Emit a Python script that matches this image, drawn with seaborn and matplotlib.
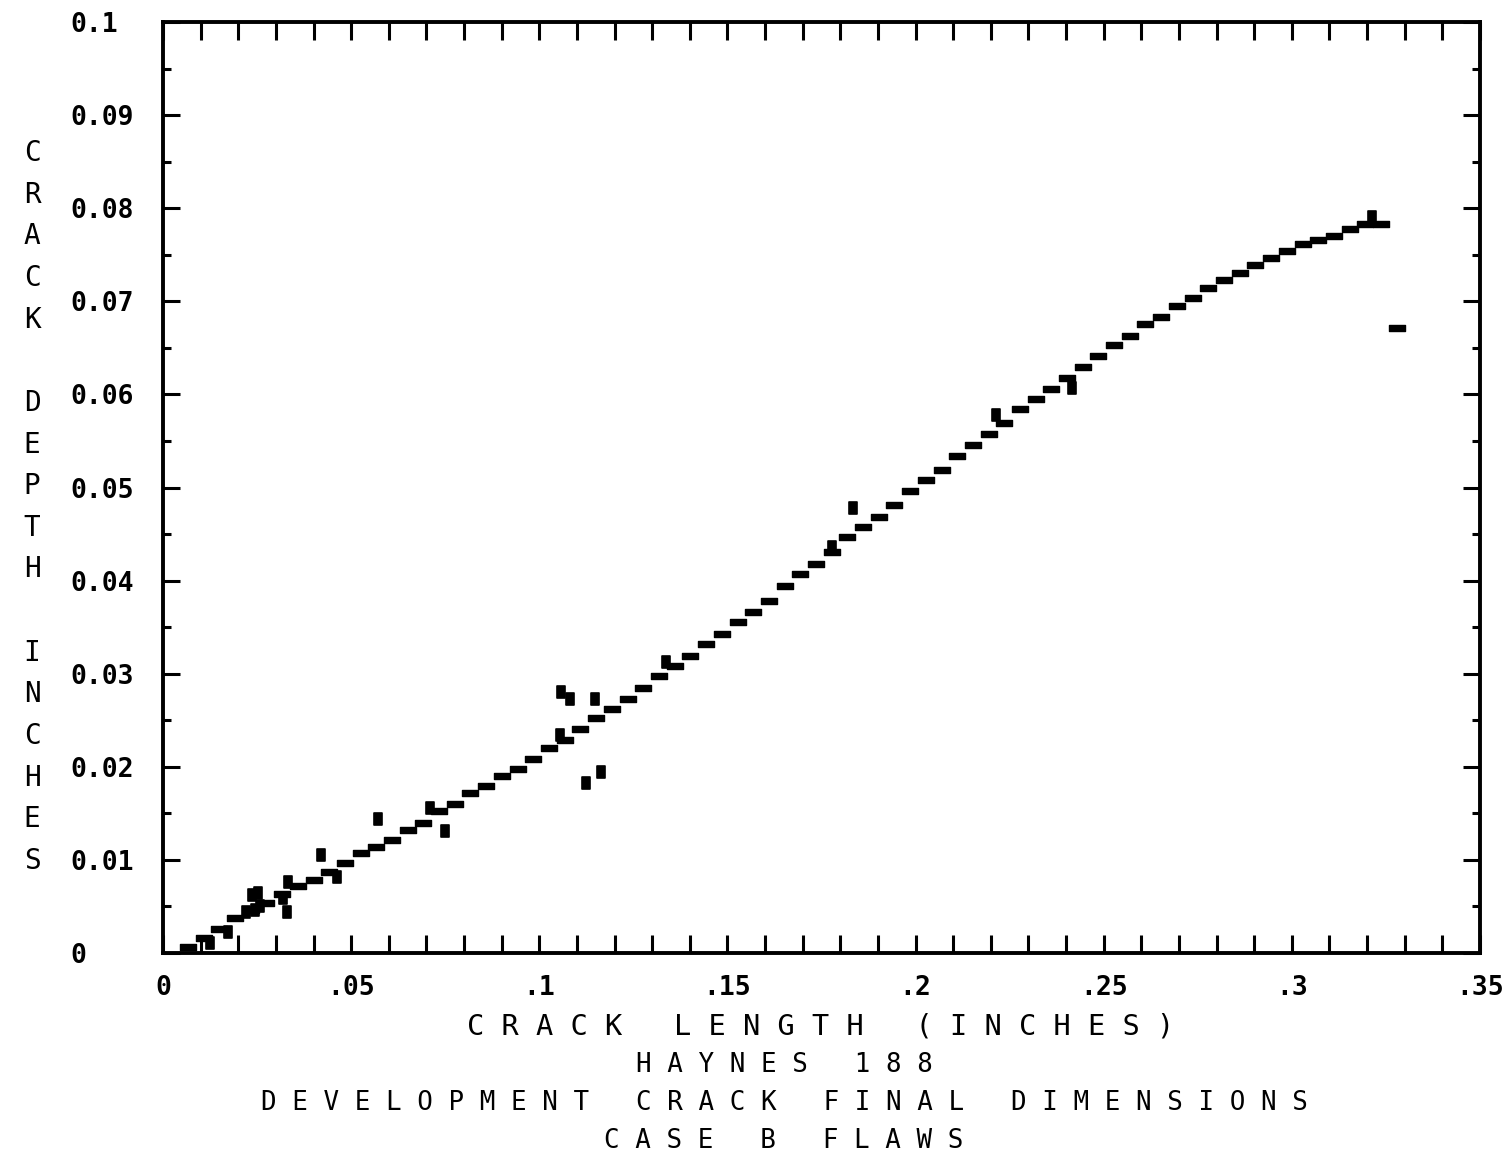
import numpy as np
import pandas as pd
import matplotlib
matplotlib.use("Agg")
import matplotlib.pyplot as plt
from matplotlib.path import Path
import seaborn as sns

# Fitted depth-vs-length curve, sampled points
fit_length = [0.0066, 0.0108, 0.0150, 0.0192, 0.0233, 0.0275, 0.0317, 0.0358, 0.0400, 0.0442,
              0.0484, 0.0525, 0.0567, 0.0609, 0.0651, 0.0692, 0.0734, 0.0776, 0.0817, 0.0859,
              0.0901, 0.0943, 0.0984, 0.1026, 0.1068, 0.1109, 0.1151, 0.1193, 0.1235, 0.1276,
              0.1318, 0.1360, 0.1401, 0.1443, 0.1485, 0.1527, 0.1568, 0.1610, 0.1652, 0.1694,
              0.1735, 0.1777, 0.1819, 0.1860, 0.1902, 0.1944, 0.1986, 0.2027, 0.2069, 0.2111,
              0.2152, 0.2194, 0.2236, 0.2278, 0.2319, 0.2361, 0.2403, 0.2444, 0.2486, 0.2528,
              0.2570, 0.2611, 0.2653, 0.2695, 0.2736, 0.2778, 0.2820, 0.2862, 0.2903, 0.2945,
              0.2987, 0.3029, 0.3070, 0.3112, 0.3154, 0.3195, 0.3237]
fit_depth = [0.0006, 0.0016, 0.0026, 0.0038, 0.0046, 0.0054, 0.0063, 0.0072, 0.0078, 0.0087,
             0.0097, 0.0107, 0.0114, 0.0121, 0.0132, 0.0140, 0.0153, 0.0160, 0.0172, 0.0179,
             0.0190, 0.0198, 0.0208, 0.0220, 0.0229, 0.0241, 0.0252, 0.0262, 0.0273, 0.0285,
             0.0297, 0.0308, 0.0319, 0.0332, 0.0343, 0.0355, 0.0366, 0.0378, 0.0394, 0.0407,
             0.0418, 0.0431, 0.0447, 0.0458, 0.0468, 0.0481, 0.0496, 0.0508, 0.0519, 0.0534,
             0.0546, 0.0558, 0.0569, 0.0584, 0.0595, 0.0606, 0.0618, 0.0629, 0.0641, 0.0653,
             0.0663, 0.0676, 0.0683, 0.0695, 0.0704, 0.0714, 0.0723, 0.0730, 0.0739, 0.0747,
             0.0754, 0.0762, 0.0766, 0.0770, 0.0778, 0.0783, 0.0783]

# Measured flaws
flaw_length = [0.0125, 0.0173, 0.0221, 0.0237, 0.0244, 0.0252, 0.0258, 0.0319, 0.0330, 0.0332,
               0.0420, 0.0462, 0.0571, 0.0710, 0.0749, 0.1055, 0.1058, 0.1082, 0.1124, 0.1148,
               0.1164, 0.1337, 0.1778, 0.1834, 0.2214, 0.2416, 0.3213]
flaw_depth = [0.0011, 0.0023, 0.0044, 0.0062, 0.0046, 0.0064, 0.0050, 0.0059, 0.0044, 0.0076,
              0.0105, 0.0082, 0.0144, 0.0156, 0.0131, 0.0234, 0.0280, 0.0273, 0.0183, 0.0273,
              0.0194, 0.0313, 0.0436, 0.0478, 0.0578, 0.0607, 0.0791]

# Flaw plotted with the dash symbol
dash_flaw_length = [0.3279]
dash_flaw_depth = [0.0671]

x_tick_values = [0, 0.05, 0.10, 0.15, 0.20, 0.25, 0.30, 0.35]
x_tick_labels = ["0", ".05", ".1", ".15", ".2", ".25", ".3", ".35"]
y_tick_values = [0, 0.01, 0.02, 0.03, 0.04, 0.05, 0.06, 0.07, 0.08, 0.09, 0.10]
y_tick_labels = ["0", "0.01", "0.02", "0.03", "0.04", "0.05", "0.06", "0.07", "0.08", "0.09", "0.1"]

fit_df = pd.DataFrame({"length": fit_length, "depth": fit_depth})
flaw_df = pd.DataFrame({"length": flaw_length, "depth": flaw_depth})
dash_df = pd.DataFrame({"length": dash_flaw_length, "depth": dash_flaw_depth})

sns.set_theme(style="white")
plt.rcParams["font.family"] = ["DejaVu Sans Mono", "DejaVu Sans"]

W, H, DPI = 1510, 1163, 100
fig = plt.figure(figsize=(W / DPI, H / DPI), dpi=DPI, facecolor="white")
ax = fig.add_axes([163 / W, 1 - 953 / H, (1480 - 163) / W, (953 - 22) / H])
ax.set_facecolor("white")

# plotter-style symbols: flat dash and tall block
dash_marker = Path([(-0.5, -0.17), (0.5, -0.17), (0.5, 0.17), (-0.5, 0.17), (-0.5, -0.17)],
                   [Path.MOVETO, Path.LINETO, Path.LINETO, Path.LINETO, Path.CLOSEPOLY])
block_marker = Path([(-0.36, -0.5), (0.36, -0.5), (0.36, 0.5), (-0.36, 0.5), (-0.36, -0.5)],
                    [Path.MOVETO, Path.LINETO, Path.LINETO, Path.LINETO, Path.CLOSEPOLY])

sns.scatterplot(data=fit_df, x="length", y="depth", ax=ax, marker=dash_marker, s=125,
                color="black", edgecolor="black", linewidth=1.0, joinstyle="round", zorder=3)
sns.scatterplot(data=dash_df, x="length", y="depth", ax=ax, marker=dash_marker, s=125,
                color="black", edgecolor="black", linewidth=1.0, joinstyle="round", zorder=3)
sns.scatterplot(data=flaw_df, x="length", y="depth", ax=ax, marker=block_marker, s=75,
                color="black", edgecolor="black", linewidth=1.2, joinstyle="round", zorder=4)

ax.set_xlim(0, 0.35)
ax.set_ylim(0, 0.1)
ax.set_xlabel("")
ax.set_ylabel("")

for side in ["left", "right", "top", "bottom"]:
    ax.spines[side].set_visible(True)
    ax.spines[side].set_color("black")
    ax.spines[side].set_linewidth(2.8)

ax.set_xticks(x_tick_values)
ax.set_xticklabels(x_tick_labels)
ax.set_xticks(np.round(np.arange(0, 0.351, 0.01), 3), minor=True)
ax.set_yticks(y_tick_values)
ax.set_yticklabels(y_tick_labels)
ax.set_yticks(np.round(np.arange(0, 0.1001, 0.005), 4), minor=True)

ax.tick_params(axis="x", which="both", direction="in", top=True, bottom=True,
               length=13, width=2.2, color="black")
ax.tick_params(axis="x", which="major", labelsize=19, pad=16, labelcolor="black")
ax.tick_params(axis="y", which="major", direction="in", left=True, right=True,
               length=12, width=2.2, color="black", labelsize=19, pad=67, labelcolor="black")
ax.tick_params(axis="y", which="minor", direction="in", left=True, right=True,
               length=6, width=2.2, color="black")
for lbl in ax.get_yticklabels():
    lbl.set_horizontalalignment("left")
    lbl.set_fontweight("bold")
for lbl in ax.get_xticklabels():
    lbl.set_fontweight("bold")

mono = ["DejaVu Sans Mono", "DejaVu Sans"]


def spaced(text):
    return " ".join(text)


fig.text(821 / W, 1 - 1026 / H, spaced("CRACK LENGTH (INCHES)"), family=mono,
         fontsize=20.6, color="black", ha="center", va="center")
for label, ypx in [("HAYNES 188", 1065), ("DEVELOPMENT CRACK FINAL DIMENSIONS", 1103),
                   ("CASE B FLAWS", 1141)]:
    fig.text(784 / W, 1 - ypx / H, spaced(label), family=mono,
             fontsize=18.6, color="black", ha="center", va="center")

ylabel_text = "\n".join(list("CRACK") + [""] + list("DEPTH") + [""] + list("INCHES"))
fig.text(32 / W, 1 - 507 / H, ylabel_text, family=mono,
         fontsize=20, color="black", ha="center", va="center", linespacing=1.62)

fig.savefig("out.png", dpi=DPI, facecolor="white")
